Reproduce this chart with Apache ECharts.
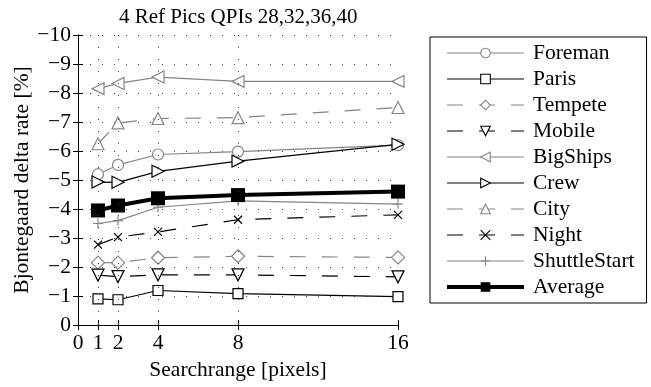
<!DOCTYPE html>
<html>
<head>
<meta charset="utf-8">
<script src="https://cdn.jsdelivr.net/npm/echarts@6/dist/echarts.min.js"></script>
<style>
  html, body { margin: 0; padding: 0; background: #fff; }
  #chart { width: 651px; height: 387px; }
</style>
</head>
<body>
<div id="chart"></div>
<script>
// Searchrange values (x) and tick positions
const xValues = [1, 2, 4, 8, 16];
const xTicks = [0, 1, 2, 4, 8, 16];
const xGrid = [1, 2, 4, 8];

// Bjontegaard delta rate per sequence [%]
const foreman = [-5.2, -5.52, -5.88, -5.98, -6.2];
const paris = [-0.9, -0.87, -1.19, -1.08, -0.98];
const tempete = [-2.15, -2.15, -2.32, -2.37, -2.33];
const mobile = [-1.72, -1.67, -1.73, -1.73, -1.66];
const bigShips = [-8.15, -8.33, -8.55, -8.4, -8.4];
const crew = [-4.93, -4.92, -5.3, -5.65, -6.23];
const city = [-6.25, -6.97, -7.12, -7.15, -7.5];
const night = [-2.77, -3.03, -3.21, -3.63, -3.8];
const shuttleStart = [-3.5, -3.6, -4.06, -4.28, -4.17];
const average = [-3.95, -4.12, -4.37, -4.48, -4.6];

const GRAY = '#858585';
const BLACK = '#000';
const FONT = '"Liberation Serif", "DejaVu Serif", serif';
const FS = 21.5;

function pairs(values) {
    return xValues.map((x, i) => [x, values[i]]);
}

function makeSeries(name, values, color, symbol, dashed, size) {
    return {
        name: name,
        type: 'line',
        data: pairs(values),
        symbol: symbol,
        symbolSize: size || 11,
        showSymbol: true,
        lineStyle: { color: color, width: 1.2, type: dashed ? [16, 16] : 'solid' },
        itemStyle: { color: '#fff', borderColor: color, borderWidth: 1.2 },
        emphasis: { disabled: true }
    };
}

const series = [
    makeSeries('Foreman', foreman, GRAY, 'circle', false, 11),
    makeSeries('Paris', paris, BLACK, 'rect', false, 10),
    makeSeries('Tempete', tempete, GRAY, 'diamond', true, 13),
    makeSeries('Mobile', mobile, BLACK, 'path://M0,0L10,0L5,10Z', true, 12),
    makeSeries('BigShips', bigShips, GRAY, 'path://M10,0L10,10L0,5Z', false, 12),
    makeSeries('Crew', crew, BLACK, 'path://M0,0L0,10L10,5Z', false, 12),
    makeSeries('City', city, GRAY, 'triangle', true, 12),
    makeSeries('Night', night, BLACK, 'path://M0,0L10,10M0,10L10,0', true, 8),
    makeSeries('ShuttleStart', shuttleStart, GRAY, 'path://M5,0L5,10M0,5L10,5', false, 10),
    {
        name: 'Average',
        type: 'line',
        data: pairs(average),
        symbol: 'rect',
        symbolSize: 14,
        lineStyle: { color: BLACK, width: 4 },
        itemStyle: { color: BLACK, borderColor: BLACK, borderWidth: 0 },
        emphasis: { disabled: true }
    }
];

// vertical dotted grid lines at the searchrange ticks
series[0].markLine = {
    silent: true,
    symbol: 'none',
    label: { show: false },
    lineStyle: { color: '#444', width: 1, type: [1, 11] },
    data: xGrid.map(v => ({ xAxis: v }))
};

// legend entries keep the thin strokes of the plot
const legendData = series.map(s => ({
    name: s.name,
    lineStyle: { width: s.name === 'Average' ? 4 : 1.1 },
    itemStyle: { borderWidth: s.name === 'Average' ? 0 : 1.1 }
}));

const chart = echarts.init(document.getElementById('chart'));

const option = {
    animation: false,
    backgroundColor: '#fff',
    textStyle: { fontFamily: FONT },
    title: {
        text: '4 Ref Pics QPIs 28,32,36,40',
        left: 114,
        top: 2,
        textStyle: { fontFamily: FONT, fontWeight: 'normal', fontSize: 21, color: '#000' }
    },
    grid: { left: 78, right: 253, top: 35, bottom: 62 },
    legend: {
        orient: 'vertical',
        left: 430,
        top: 37,
        padding: [5, 12, 5, 15],
        borderColor: '#000',
        borderWidth: 1,
        itemWidth: 77,
        itemHeight: 12,
        itemGap: 4,
        textStyle: { fontFamily: FONT, fontSize: FS, color: '#000', lineHeight: 20, padding: [0, 0, 0, 4] },
        data: legendData
    },
    xAxis: [{
        type: 'value',
        min: 0,
        max: 16,
        interval: 1,
        name: 'Searchrange [pixels]',
        nameLocation: 'middle',
        nameGap: 33,
        nameTextStyle: { fontFamily: FONT, fontSize: FS, color: '#000' },
        axisLine: { lineStyle: { color: '#000', width: 1 } },
        axisTick: { inside: true, length: 5, customValues: xTicks, lineStyle: { color: '#000' } },
        axisLabel: { customValues: xTicks, margin: 7, fontFamily: FONT, fontSize: FS, color: '#000' },
        splitLine: { show: false }
    }, {
        type: 'value',
        position: 'top',
        min: 0,
        max: 16,
        interval: 1,
        axisLine: { lineStyle: { color: '#000', width: 1 } },
        axisTick: { inside: true, length: 5, customValues: xTicks, lineStyle: { color: '#000' } },
        axisLabel: { show: false },
        splitLine: { show: false }
    }],
    yAxis: [{
        type: 'value',
        inverse: true,
        min: -10,
        max: 0,
        interval: 1,
        name: 'Bjontegaard delta rate [%]',
        nameLocation: 'middle',
        nameGap: 45,
        nameRotate: 90,
        nameTextStyle: { fontFamily: FONT, fontSize: FS, color: '#000' },
        axisLine: { show: true, lineStyle: { color: '#000', width: 1 } },
        axisTick: { show: true, inside: true, length: 5, lineStyle: { color: '#000' } },
        axisLabel: {
            margin: 7,
            fontFamily: FONT,
            fontSize: FS,
            color: '#000',
            formatter: v => String(v).replace('-', '\u2212')
        },
        splitLine: { show: true, lineStyle: { color: '#444', width: 1, type: [1, 11] } }
    }, {
        type: 'value',
        position: 'right',
        inverse: true,
        min: -10,
        max: 0,
        interval: 1,
        axisLine: { show: true, lineStyle: { color: '#000', width: 1 } },
        axisTick: { show: true, inside: true, length: 5, lineStyle: { color: '#000' } },
        axisLabel: { show: false },
        splitLine: { show: false }
    }],
    series: series
};

chart.setOption(option);
</script>
</body>
</html>
